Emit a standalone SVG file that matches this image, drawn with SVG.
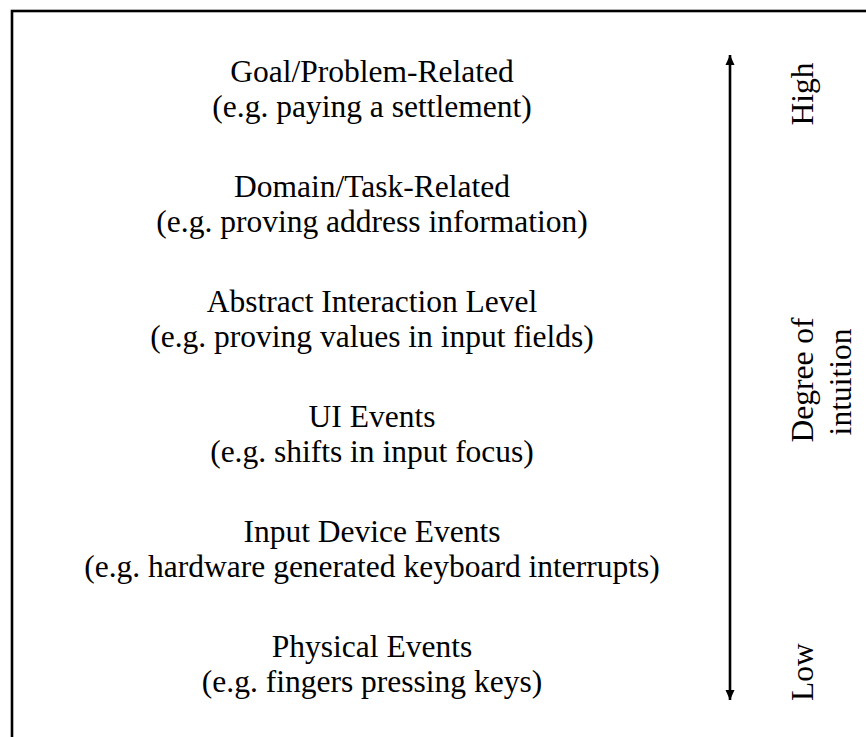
<svg xmlns="http://www.w3.org/2000/svg" width="866" height="737" viewBox="0 0 866 737">
<style>
text { font-family: "Liberation Serif", "Times New Roman", serif; font-size: 31.5px; fill: #000; }
.c { text-anchor: middle; }
</style>
<defs>
<marker id="ah" viewBox="0 0 10 12" refX="10" refY="6" markerWidth="10" markerHeight="12" markerUnits="userSpaceOnUse" orient="auto-start-reverse">
<path d="M0,1.5 L10,6 L0,10.5 z" fill="#000"/>
</marker>
</defs>
<rect x="0" y="0" width="866" height="737" fill="#fff"/>
<rect id="frame" x="12" y="11" width="900" height="800" fill="none" stroke="#000" stroke-width="2.6"/>
<g id="level-goal"><text class="c" x="372" y="82">Goal/Problem-Related</text><text class="c" x="372" y="117">(e.g. paying a settlement)</text></g>
<g id="level-domain"><text class="c" x="372" y="197">Domain/Task-Related</text><text class="c" x="372" y="232">(e.g. proving address information)</text></g>
<g id="level-abstract"><text class="c" x="372" y="312">Abstract Interaction Level</text><text class="c" x="372" y="347">(e.g. proving values in input fields)</text></g>
<g id="level-ui"><text class="c" x="372" y="427">UI Events</text><text class="c" x="372" y="462">(e.g. shifts in input focus)</text></g>
<g id="level-input"><text class="c" x="372" y="542">Input Device Events</text><text class="c" x="372" y="577">(e.g. hardware generated keyboard interrupts)</text></g>
<g id="level-physical"><text class="c" x="372" y="657">Physical Events</text><text class="c" x="372" y="692">(e.g. fingers pressing keys)</text></g>
<g id="connectors"><line x1="730" y1="55" x2="730" y2="700" stroke="#000" stroke-width="2.6" marker-start="url(#ah)" marker-end="url(#ah)"/></g>
<g id="scale-labels">
<text class="c" transform="translate(813,94) rotate(-90)">High</text>
<text class="c" transform="translate(813,380) rotate(-90)">Degree of</text>
<text class="c" transform="translate(851,382) rotate(-90)">intuition</text>
<text class="c" transform="translate(813,672) rotate(-90)">Low</text>
</g>
</svg>
